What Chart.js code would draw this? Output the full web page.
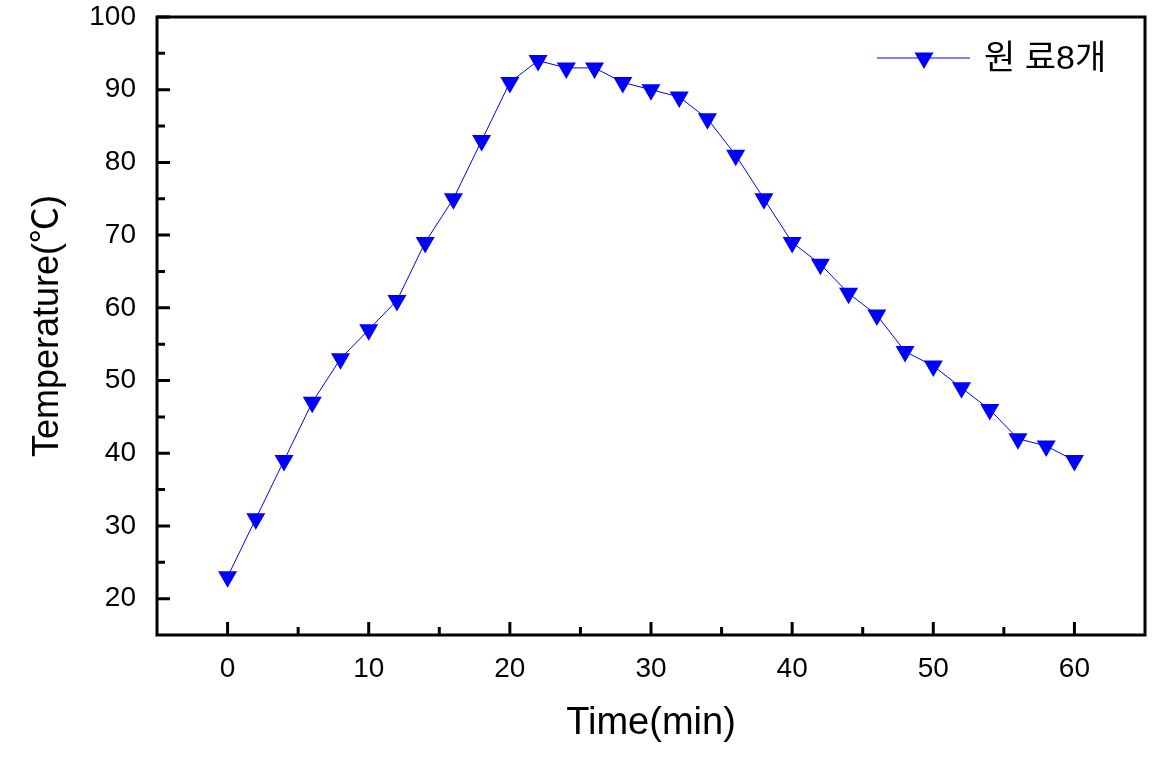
<!DOCTYPE html>
<html lang="ko">
<head>
<meta charset="UTF-8">
<title>Temperature vs Time</title>
<script src="https://cdn.jsdelivr.net/npm/chart.js@4.4.2/dist/chart.umd.min.js"></script>
<style>
  html, body { margin: 0; padding: 0; background: #fff; }
  #wrap { position: relative; width: 1156px; height: 758px; }
</style>
</head>
<body>
<div id="wrap"><canvas id="chart"></canvas></div>
<script>
// --- data ---
const timeMin = [0, 2, 4, 6, 8, 10, 12, 14, 16, 18, 20, 22, 24, 26, 28, 30,
                 32, 34, 36, 38, 40, 42, 44, 46, 48, 50, 52, 54, 56, 58, 60];
const temperature = [23, 31, 39, 47, 53, 57, 61, 69, 75, 83, 91, 94, 93, 93, 91, 90,
                     89, 86, 81, 75, 69, 66, 62, 59, 54, 52, 49, 46, 42, 41, 39];
const seriesLabel = '원 료8개';
const xMajorTicks = [0, 10, 20, 30, 40, 50, 60];
const xMinorTicks = [5, 15, 25, 35, 45, 55];
const yMajorTicks = [20, 30, 40, 50, 60, 70, 80, 90, 100];
const yMinorTicks = [25, 35, 45, 55, 65, 75, 85, 95];

const FONT = '"Liberation Sans", Arial, "Noto Sans CJK KR", sans-serif';
const BLUE = '#0000ff';

// frame, inward ticks and the legend drawn on top of the chart area
const framePlugin = {
  id: 'frame',
  afterDraw(chart) {
    const { ctx, chartArea: a, scales: { x, y } } = chart;
    ctx.save();
    ctx.strokeStyle = '#000';
    ctx.lineWidth = 3;
    ctx.strokeRect(a.left, a.top, a.right - a.left, a.bottom - a.top);

    ctx.beginPath();
    xMajorTicks.forEach(v => { const px = x.getPixelForValue(v); ctx.moveTo(px, a.bottom); ctx.lineTo(px, a.bottom - 13); });
    xMinorTicks.forEach(v => { const px = x.getPixelForValue(v); ctx.moveTo(px, a.bottom); ctx.lineTo(px, a.bottom - 8); });
    yMajorTicks.forEach(v => { const py = y.getPixelForValue(v); ctx.moveTo(a.left, py); ctx.lineTo(a.left + 13, py); });
    yMinorTicks.forEach(v => { const py = y.getPixelForValue(v); ctx.moveTo(a.left, py); ctx.lineTo(a.left + 8, py); });
    ctx.stroke();

    // legend
    const ly = 58;
    ctx.strokeStyle = BLUE;
    ctx.lineWidth = 1;
    ctx.beginPath();
    ctx.moveTo(877, ly); ctx.lineTo(970, ly);
    ctx.stroke();
    ctx.fillStyle = BLUE;
    ctx.beginPath();
    const r = 11, cx = 924;
    ctx.moveTo(cx, ly + r);
    ctx.lineTo(cx - r * 0.866, ly - r / 2);
    ctx.lineTo(cx + r * 0.866, ly - r / 2);
    ctx.closePath();
    ctx.fill();
    ctx.fillStyle = '#000';
    ctx.font = '34px ' + FONT;
    ctx.textBaseline = 'middle';
    ctx.fillText(seriesLabel, 984, ly + 2);
    ctx.restore();
  }
};

new Chart(document.getElementById('chart'), {
  type: 'line',
  data: {
    datasets: [{
      label: seriesLabel,
      data: timeMin.map((t, i) => ({ x: t, y: temperature[i] })),
      borderColor: BLUE,
      borderWidth: 1,
      backgroundColor: BLUE,
      pointStyle: 'triangle',
      rotation: 180,
      pointRadius: 11,
      pointHoverRadius: 11,
      pointBorderWidth: 0,
      tension: 0
    }]
  },
  options: {
    responsive: true,
    maintainAspectRatio: false,
    animation: false,
    layout: { padding: { top: 17, right: 6, left: 0, bottom: 0 } },
    plugins: { legend: { display: false }, tooltip: { enabled: false } },
    scales: {
      x: {
        type: 'linear',
        min: -5, max: 65,
        afterFit(s) { s.height = 123; s.paddingLeft = 0; s.paddingRight = 0; },
        afterBuildTicks(s) { s.ticks = xMajorTicks.map(v => ({ value: v })); },
        grid: { display: false },
        border: { display: false },
        ticks: { color: '#000', font: { family: FONT, size: 28 }, padding: 9, maxRotation: 0 },
        title: { display: true, text: 'Time(min)', color: '#000',
                 font: { family: FONT, size: 38 }, padding: { top: 0, bottom: 12 } }
      },
      y: {
        type: 'linear',
        min: 15, max: 100,
        afterFit(s) { s.width = 157; s.paddingTop = 0; s.paddingBottom = 0; },
        afterBuildTicks(s) { s.ticks = yMajorTicks.map(v => ({ value: v })); },
        grid: { display: false },
        border: { display: false },
        ticks: { color: '#000', font: { family: FONT, size: 28 }, padding: 13 },
        title: { display: true, text: 'Temperature(℃)', color: '#000',
                 font: { family: FONT, size: 36 }, padding: { top: 26, bottom: 0 } }
      }
    }
  },
  plugins: [framePlugin]
});
</script>
</body>
</html>
